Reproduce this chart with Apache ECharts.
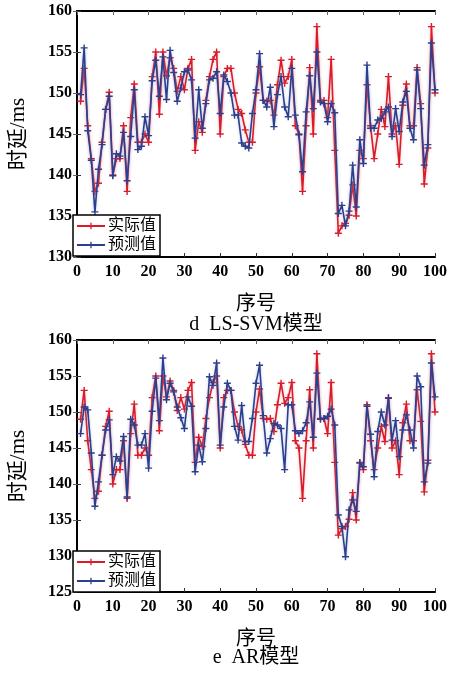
<!DOCTYPE html>
<html><head><meta charset="utf-8">
<script src="https://cdn.jsdelivr.net/npm/echarts@6/dist/echarts.min.js"></script>
<style>html,body{margin:0;padding:0;background:#fff}#c{width:452px;height:673px}</style>
</head><body><div id="c"></div>
<script>
// Actual delay (ms), sample 1..100
const actual = [
149.0,153.0,146.0,142.0,138.0,139.0,144.0,148.0,150.1,140.0,
142.0,142.0,146.0,138.0,147.0,151.1,144.0,144.0,145.0,144.0,
152.0,155.0,147.4,155.0,152.1,154.3,153.0,150.2,152.0,150.4,
153.0,154.1,143.0,146.5,145.2,149.1,152.0,154.1,155.0,145.0,
152.0,153.0,153.0,150.0,148.0,147.5,145.5,144.0,144.0,150.0,
153.2,149.1,149.0,149.1,147.3,151.0,154.0,151.2,152.0,154.1,
146.0,145.0,138.0,146.0,153.1,145.0,158.1,149.1,149.1,147.0,
154.1,143.0,132.9,133.8,134.1,135.1,138.8,135.0,143.0,142.0,
151.0,146.0,142.0,145.0,148.0,145.9,152.0,145.0,146.0,141.3,
148.5,151.1,146.0,146.0,153.1,148.7,138.9,143.3,158.1,150.0];
// LS-SVM prediction
const predSVM = [
149.8,155.5,145.4,141.8,135.5,140.7,143.7,148.0,149.6,139.9,
142.6,142.3,145.2,139.3,144.7,150.4,143.1,143.5,147.1,144.8,
151.5,154.0,149.6,154.4,149.2,155.2,152.5,149.0,150.6,152.6,
152.8,151.6,144.5,150.4,145.7,148.7,151.6,151.8,152.6,147.5,
152.2,151.4,150.0,147.3,147.3,143.9,143.5,143.3,147.5,150.4,
154.8,149.1,148.3,150.7,145.9,149.8,152.0,148.3,147.1,153.0,
147.3,144.9,140.4,147.7,152.1,148.1,155.0,148.9,148.7,146.5,
148.7,147.6,135.3,136.3,133.8,135.6,141.2,136.1,144.3,141.4,
153.4,145.7,145.7,146.7,146.9,147.7,148.3,144.7,148.1,145.3,
148.9,150.2,145.7,144.3,152.8,148.1,141.2,143.7,156.1,150.4];
// AR prediction
const predAR = [
147.0,150.7,150.3,144.3,136.9,140.3,144.0,147.5,148.9,141.3,
143.8,143.2,146.6,138.2,149.0,148.2,145.4,145.4,147.0,142.2,
150.1,154.7,148.8,157.5,151.7,154.0,152.8,150.7,149.2,147.7,
152.1,150.8,141.7,145.4,143.1,147.7,154.9,153.7,156.8,145.4,
150.7,154.0,153.0,148.0,146.1,150.9,145.9,145.9,149.1,154.0,
156.5,149.5,144.3,146.3,148.4,148.2,147.7,142.0,151.0,151.0,
147.4,147.0,147.4,148.5,151.4,146.5,155.4,149.0,149.1,149.4,
150.4,148.2,135.7,134.1,129.9,136.4,137.8,136.2,142.9,142.4,
150.8,146.9,141.0,147.3,150.0,148.2,151.9,146.1,148.8,143.8,
147.5,149.6,147.5,145.0,155.0,153.5,140.3,142.9,156.8,152.1];

const seriesNames = ['实际值', '预测值'];
const panelTitles = ['d  LS-SVM模型', 'e  AR模型'];
const xName = '序号';
const yName = '时延/ms';
const yRanges = [[130, 160], [125, 160]];

const RED = '#d81c2a', BLUE = '#2c3f8e';
const PLUS = 'path://M4,0H6V4H10V6H6V10H4V6H0V4H4Z';
const serifNum = '"Liberation Serif","DejaVu Serif",serif';
const cjk = '"Liberation Serif","Noto Sans CJK SC",serif';

const pairs = arr => arr.map((v, i) => [i + 1, v]);

const grids = [
  {left: 73, top: 11, width: 362, height: 246},
  {left: 73, top: 340, width: 362, height: 252}
];

const xAxes = [], yAxes = [], series = [], legends = [];
grids.forEach((g, gi) => {
  xAxes.push({
    gridIndex: gi, type: 'value', min: 0, max: 100, interval: 10, position: 'bottom',
    axisLine: {lineStyle: {color: '#000', width: 2}},
    axisTick: {inside: true, length: 4, lineStyle: {color: '#333'}},
    axisLabel: {color: '#000', fontFamily: serifNum, fontSize: 16, fontWeight: 'bold', margin: 7},
    splitLine: {show: false},
    name: xName, nameLocation: 'middle', nameGap: 38,
    nameTextStyle: {color: '#000', fontFamily: cjk, fontSize: 20}
  });
  xAxes.push({
    gridIndex: gi, type: 'value', min: 0, max: 100, interval: 10, position: 'top',
    axisLine: {lineStyle: {color: '#000', width: 2}},
    axisTick: {inside: true, length: 4, lineStyle: {color: '#666'}},
    axisLabel: {show: false}, splitLine: {show: false}
  });
  yAxes.push({
    gridIndex: gi, type: 'value', min: yRanges[gi][0], max: yRanges[gi][1], interval: 5, position: 'left',
    axisLine: {show: true, lineStyle: {color: '#000', width: 2}},
    axisTick: {show: true, inside: true, length: 4, lineStyle: {color: '#333'}},
    axisLabel: {color: '#000', fontFamily: serifNum, fontSize: 16, fontWeight: 'bold', margin: 5},
    splitLine: {show: false},
    name: yName, nameLocation: 'middle', nameGap: 48,
    nameTextStyle: {color: '#000', fontFamily: cjk, fontSize: 21}
  });
  yAxes.push({
    gridIndex: gi, type: 'value', min: yRanges[gi][0], max: yRanges[gi][1], interval: 5, position: 'right',
    axisLine: {show: true, lineStyle: {color: '#000', width: 2}},
    axisTick: {show: true, inside: true, length: 4, lineStyle: {color: '#666'}},
    axisLabel: {show: false}, splitLine: {show: false}
  });
  const pred = gi === 0 ? predSVM : predAR;
  series.push({
    name: seriesNames[0], type: 'line', xAxisIndex: gi * 2, yAxisIndex: gi * 2,
    data: pairs(actual), symbol: PLUS, symbolSize: 7, color: RED,
    lineStyle: {width: 1.6, color: RED, shadowColor: 'rgba(240,120,130,0.5)', shadowBlur: 3},
    itemStyle: {color: RED}, z: 2, animation: false
  });
  series.push({
    name: seriesNames[1], type: 'line', xAxisIndex: gi * 2, yAxisIndex: gi * 2,
    data: pairs(pred), symbol: PLUS, symbolSize: 7, color: BLUE,
    lineStyle: {width: 1.6, color: BLUE, shadowColor: 'rgba(120,140,200,0.5)', shadowBlur: 3},
    itemStyle: {color: BLUE}, z: 3, animation: false
  });
  legends.push({
    data: seriesNames, orient: 'vertical', left: 73, top: gi === 0 ? 215 : 551,
    backgroundColor: '#fff', borderColor: '#000', borderWidth: 1.5,
    padding: [3, 4, 3, 3], itemGap: 3, itemWidth: 28, itemHeight: 8,
    textStyle: {color: '#000', fontFamily: cjk, fontSize: 16, padding: [0, 0, 0, -2]},
    z: 10, selectedMode: false
  });
});

const chart = echarts.init(document.getElementById('c'), null, {renderer: 'canvas'});
chart.setOption({
  backgroundColor: '#fff',
  animation: false,
  grid: grids,
  xAxis: xAxes,
  yAxis: yAxes,
  legend: legends,
  series: series,
  graphic: [
    {type: 'text', x: 256, y: 325, style: {text: panelTitles[0], font: '20px ' + cjk, fill: '#000', textAlign: 'center', textVerticalAlign: 'middle'}},
    {type: 'text', x: 256, y: 658, style: {text: panelTitles[1], font: '20px ' + cjk, fill: '#000', textAlign: 'center', textVerticalAlign: 'middle'}}
  ]
});
</script></body></html>
